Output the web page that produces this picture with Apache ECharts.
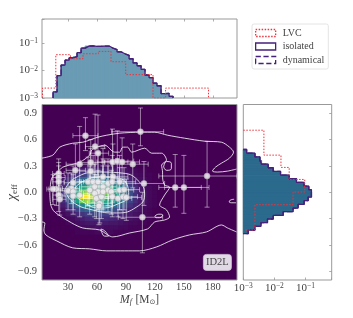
<!DOCTYPE html>
<html><head><meta charset="utf-8">
<style>html,body{margin:0;padding:0;background:#fff}#c{width:353px;height:318px}</style>
<script src="https://cdn.jsdelivr.net/npm/echarts@6/dist/echarts.min.js"></script>
</head><body><div id="c"></div>
<script>
const FONT = '"Liberation Serif", serif';
const massTicks = [30, 60, 90, 120, 150, 180];
const chiTicks = [-0.9, -0.6, -0.3, 0, 0.3, 0.6, 0.9];
const chiTickLabels = ['\u22120.9', '\u22120.6', '\u22120.3', '0.0', '0.3', '0.6', '0.9'];
const legendNames = ['LVC', 'isolated', 'dynamical'];

const massEdgesModel = [14.5,18.6,22.8,26.9,31.1,35.2,39.3,43.5,47.6,51.8,55.9,60,64.2,68.3,72.5,76.6,80.7,84.9,89,93.2,97.3,101.4,105.6,109.7,113.9,118,122.1,126.3,130.4,134.6,138.7];
const massIsolated = [.00166,.0065,.0159,.024,.029,.032,.045,.066,.078,.08,.076,.076,.078,.078,.066,.058,.048,.041,.036,.027,.019,.015,.011,.0069,.0055,.0035,.0028,.00145,.00148,.00115];
const massDynamical = [.00166,.0065,.0159,.024,.029,.032,.045,.066,.078,.08,.076,.076,.078,.078,.066,.058,.048,.041,.036,.027,.019,.015,.011,.0069,.0055,.0035,.0028,.00145,.00148,.00115];
const massEdgesLvc = [3.5,17.3,32.5,45.5,61.4,74.5,89.7,118,131,175.5];
const massLvc = [.0023,.038,.027,.041,.05,.021,.0071,.001,.0023];

const chiEdgesModel = [.487,.445,.403,.362,.32,.279,.237,.195,.154,.112,.07,.029,-.013,-.055,-.096,-.138,-.18,-.221,-.263,-.305,-.346,-.388,-.43,-.471];
const chiIsolated = [.00128,.00237,.00342,.00388,.00634,.00918,.0158,.03,.0514,.0906,.128,.156,.156,.122,.0906,.058,.04,.0192,.00918,.006,.0037,.00237,.00145];
const chiDynamical = [.00128,.00237,.00342,.00388,.00634,.00918,.0158,.03,.0514,.0906,.128,.156,.156,.122,.0906,.058,.04,.0192,.00918,.006,.0037,.00237,.00145];
const chiEdgesLvc = [.707,.423,.283,.146,.002,-.142,-.43];
const chiLvc = [.0046,.0163,.03,.095,.04,.00237];

const heatX = [10,15,20,25,30,35,40,45,50,55,60,65,70,75,80,85,90,95,100,105,110,115,120,125];
const heatY = [.30,.25,.20,.15,.10,.05,0,-.05,-.10,-.15,-.20,-.25,-.30,-.35,-.40,-.45];
const heatRows = [
[0,0,0,0,0,0,.02,.03,.04,.04,.04,.04,.04,.03,.03,.02,.02,.01,.01,0,0,0,0,0],
[0,0,0,0,.02,.04,.06,.07,.09,.09,.09,.09,.08,.07,.06,.05,.04,.03,.02,.01,.01,0,0,0],
[0,0,0,.02,.05,.08,.12,.15,.18,.2,.2,.2,.18,.15,.12,.1,.07,.05,.03,.02,.01,.01,0,0],
[0,0,.02,.05,.1,.16,.22,.28,.32,.34,.35,.35,.32,.28,.24,.19,.13,.08,.05,.03,.02,.01,0,0],
[0,.01,.03,.08,.15,.24,.32,.38,.44,.46,.46,.46,.46,.42,.36,.3,.22,.14,.08,.05,.03,.01,.01,0],
[0,.01,.04,.1,.2,.3,.4,.5,.55,.55,.55,.56,.58,.55,.46,.38,.28,.18,.11,.06,.03,.02,.01,0],
[0,.01,.05,.12,.24,.36,.5,.66,.72,.66,.6,.62,.7,.64,.5,.42,.32,.2,.12,.07,.04,.02,.01,0],
[0,.01,.05,.12,.24,.38,.55,.85,.95,.78,.62,.6,.62,.58,.48,.4,.3,.2,.12,.07,.04,.02,.01,0],
[0,.01,.04,.1,.2,.32,.48,.66,.72,.64,.54,.52,.5,.46,.42,.34,.25,.17,.11,.06,.04,.02,.01,0],
[0,0,.02,.07,.14,.22,.32,.4,.44,.44,.42,.4,.38,.35,.3,.25,.18,.12,.08,.05,.03,.02,.01,0],
[0,0,.01,.04,.08,.13,.18,.24,.28,.3,.3,.28,.26,.24,.2,.16,.12,.08,.06,.04,.02,.01,0,0],
[0,0,.01,.02,.04,.07,.1,.13,.16,.18,.18,.18,.16,.14,.12,.1,.08,.06,.04,.03,.02,.01,0,0],
[0,0,0,.01,.02,.03,.05,.07,.09,.1,.11,.11,.1,.09,.08,.06,.05,.04,.03,.02,.01,.01,0,0],
[0,0,0,0,.01,.02,.03,.04,.05,.06,.06,.06,.06,.05,.05,.04,.03,.02,.02,.01,.01,0,0,0],
[0,0,0,0,0,.01,.01,.02,.03,.03,.04,.04,.03,.03,.03,.02,.02,.01,.01,.01,0,0,0,0],
[0,0,0,0,0,0,.01,.01,.01,.01,.02,.02,.02,.02,.01,.01,.01,.01,0,0,0,0,0,0]
];

const contourOuterTop = [[3,.389],[14.2,.423],[21.4,.514],[34.9,.559],[45.2,.57],[60.7,.627],[70,.65],[83.5,.673],[105.2,.684],[119.7,.684],[133.1,.65],[150.7,.616],[171.4,.582],[189,.57],[197.2,.514],[201.4,.457],[197.2,.389],[189,.332],[182.7,.286],[179.6,.241],[184.8,.23],[195.2,.241],[204.5,.264]];
const contourOuterBottom = [[3,-.339],[6,-.35],[5,-.43],[7,-.486],[18.3,-.555],[34.9,-.634],[52.4,-.645],[70,-.668],[88.6,-.668],[104.1,-.668],[121.7,-.623],[138.3,-.543],[155.9,-.486],[173.4,-.452],[189,-.373],[195.2,-.407],[204.5,-.452]];
const contourMiddle = [[11.1,0],[13.1,.161],[19.3,.23],[24.5,.286],[42.1,.343],[52.4,.423],[54.5,.48],[59.7,.514],[68,.536],[78.3,.457],[83.5,.457],[86.6,.514],[91.7,.514],[95.9,.457],[109.3,.502],[116.6,.445],[127,.445],[132,.366],[126.9,.309],[127.9,.23],[127.9,.173],[130,.082],[135.2,.059],[130,-.032],[124.8,-.145],[132,-.202],[135.2,-.282],[130,-.316],[119.7,-.339],[112.4,-.418],[93.8,-.464],[76.2,-.509],[71,-.486],[62.8,-.43],[45.2,-.407],[33.8,-.35],[16.2,-.225],[12.1,-.145],[11.1,0]];
const contourIslandA = [[129,.29],[132,.35],[137,.33],[137,.27],[132,.25],[129,.29]];
const contourIslandB = [[120,-.27],[124,-.25],[128,-.26],[125,-.29],[121,-.29],[120,-.27]];
const contourIslandC = [[64,-.42],[68,-.44],[72,-.5],[68,-.5],[65,-.46],[64,-.42]];
const contourIslandD = [[202,-.08],[198,-.09],[197,-.11],[201,-.12],[204,-.12]];
const contourRingA = [[26.6,.025],[36.9,.161],[62.8,.23],[86.6,.218],[104.1,.116],[109.3,-.032],[101,-.168],[80.4,-.236],[55.5,-.202],[34.9,-.111],[26.6,.025]];
const contourRingB = [[33.8,0],[44.2,.116],[62.8,.173],[81.4,.161],[91.7,.07],[92.8,-.032],[81.4,-.134],[62.8,-.18],[47.3,-.123],[33.8,0]];

const eventMass = [105,48,58,61,42,53.5,76,81,86,97,37.6,53.5,108.6,141,150,174,107,50.7,55.9,61,66.2,71.4,76.5,83.4,52.4,57.6,61,66.2,71.4,57.6,59.3,64.5,62.8,62,66.2,74.8,75.8,81.7,86.9,90.3,83.4,88,75.8,42,35.2,33.4,30,35.2,35.2,20.3,20.3,20.3,18,14.5,20.3,21.4];
const eventChi = [.69,.645,.52,.445,.32,.34,.345,.355,.345,.32,.25,.24,.1,.055,.055,.185,-.285,.119,.119,.119,.176,.1,.176,.119,.025,.062,.006,.062,.025,-.013,-.07,-.051,-.127,-.157,.006,.006,-.051,-.07,-.051,-.059,.025,.03,.119,-.034,.108,.043,.017,.006,-.044,.214,.168,.119,.036,.036,-.032,-.08];
const eventMassLo = [75,35,48,52,28,43,60,65,68,75,28,42,90,124,130,124,82,38,42,46,52,55,62,68,38,44,50,54,58,46,46,52,50,48,52,62,62,68,72,76,68,74,62,32,26,24,22,26,24,14,14,14,10,8,14,14];
const eventMassHi = [129,61,68,72,58,68,92,98,104,113,48,66,130,168,176,205,128,64,70,76,82,88,92,100,66,72,74,80,86,68,72,78,76,76,80,88,90,96,102,106,98,104,90,52,44,42,38,44,46,26,27,26,24,22,27,28];
const eventChiLo = [.53,.475,.17,.12,.12,.15,.15,.12,.1,.05,.05,.03,-.15,-.17,-.24,-.17,-.69,-.15,-.12,-.2,-.06,-.15,-.1,-.2,-.25,-.15,-.2,-.2,-.22,-.28,-.3,-.3,-.35,-.37,-.22,-.25,-.28,-.28,-.3,-.32,-.2,-.2,-.12,-.28,-.1,-.13,-.2,-.2,-.25,.02,-.02,-.05,-.15,-.14,-.22,-.26];
const eventChiHi = [.96,.85,.89,.88,.75,.6,.72,.7,.62,.55,.55,.5,.35,.43,.42,.58,0,.4,.42,.45,.5,.38,.55,.42,.3,.32,.25,.38,.3,.2,.2,.18,.1,.08,.3,.25,.2,.15,.15,.15,.28,.28,.42,.14,.3,.22,.22,.2,.12,.38,.34,.3,.2,.2,.12,.08];

const FLOOR = 0.001, MASS_MIN = 3, MASS_MAX = 205, CHI_MIN = -1, CHI_MAX = 1, TOP_MAX = 0.76, RIGHT_MAX = 0.7;
const VIRIDIS = ['#440154','#482878','#3e4989','#31688e','#26828e','#1f9e89','#35b779','#6ece58','#b5de2b','#fde725'];
const TXT = '#444', SPINE = '#999';
const LVC = '#f0323c', ISO = '#47207a';

function stairs(edges, vals, swap) {
  const pts = [[edges[0], FLOOR]];
  vals.forEach((v, i) => { pts.push([edges[i], v]); pts.push([edges[i + 1], v]); });
  pts.push([edges[edges.length - 1], FLOOR]);
  return swap ? pts.map(p => [p[1], p[0]]) : pts;
}
const bins = (edges, vals) => vals.map((v, i) => [edges[i], edges[i + 1], v]);
const expLabel = v => {
  if (v > 0.5) return '';
  const e = Math.round(Math.log10(v));
  return '{b|10}{s|' + (e < 0 ? '\u2212' : '') + Math.abs(e) + '}';
};
const expRich = { b: { fontFamily: FONT, fontSize: 11, color: TXT }, s: { fontFamily: FONT, fontSize: 7.5, color: TXT, verticalAlign: 'top', lineHeight: 12 } };

const grids = [
  { left: 42, top: 19, width: 195, height: 79, show: true, borderColor: SPINE, borderWidth: 1, backgroundColor: '#fff', outerBoundsMode: 'none' },
  { left: 42, top: 104.5, width: 195, height: 175.5, show: true, borderColor: SPINE, borderWidth: 1, backgroundColor: '#440154', outerBoundsMode: 'none' },
  { left: 243.3, top: 104.5, width: 88.4, height: 175.5, show: true, borderColor: SPINE, borderWidth: 1, backgroundColor: '#fff', outerBoundsMode: 'none' },
  { left: 46.2, top: 164, width: 116, height: 70.4, outerBoundsMode: 'none' }
];
const tickIn = { show: true, inside: true, length: 2.5, lineStyle: { color: SPINE, width: 0.8 } };
const noLine = { show: false, onZero: false };
const noAxis = { axisLine: noLine, axisTick: { show: false }, axisLabel: { show: false }, splitLine: { show: false } };

const xAxes = [
  { gridIndex: 0, type: 'value', min: MASS_MIN, max: MASS_MAX, axisLine: noLine, splitLine: { show: false },
    axisTick: { ...tickIn, customValues: massTicks }, axisLabel: { show: false } },
  { gridIndex: 0, type: 'value', position: 'top', min: MASS_MIN, max: MASS_MAX, axisLine: noLine, splitLine: { show: false },
    axisTick: { ...tickIn, customValues: massTicks }, axisLabel: { show: false } },
  { gridIndex: 1, type: 'value', min: MASS_MIN, max: MASS_MAX, axisLine: noLine, splitLine: { show: false },
    axisTick: { show: false, customValues: massTicks },
    axisLabel: { customValues: massTicks, fontFamily: FONT, fontSize: 10.5, color: TXT, margin: 2 },
    name: '{i|M}{f|f} {n|[M}{o|\u2299}{n|]}', nameLocation: 'middle', nameGap: 14, nameMoveOverlap: false,
    nameTextStyle: { rich: { i: { fontFamily: FONT, fontStyle: 'italic', fontSize: 12, color: TXT }, f: { fontFamily: FONT, fontStyle: 'italic', fontSize: 8, color: TXT, verticalAlign: 'bottom', lineHeight: 10 }, n: { fontFamily: FONT, fontSize: 11.5, color: TXT }, o: { fontFamily: '"DejaVu Sans"', fontSize: 7, color: TXT, verticalAlign: 'bottom', lineHeight: 9 } } } },
  { gridIndex: 2, type: 'log', logBase: 10, min: FLOOR, max: RIGHT_MAX, axisLine: noLine, splitLine: { show: false }, minorSplitLine: { show: false },
    axisTick: tickIn,
    axisLabel: { formatter: expLabel, rich: expRich, margin: 2 } },
  { gridIndex: 3, type: 'category', data: heatX, ...noAxis }
];
const yAxes = [
  { gridIndex: 0, type: 'log', logBase: 10, min: FLOOR, max: TOP_MAX, axisLine: noLine, splitLine: { show: false }, minorSplitLine: { show: false },
    axisTick: tickIn,
    axisLabel: { formatter: expLabel, rich: expRich, margin: 4 } },
  { gridIndex: 1, type: 'value', min: CHI_MIN, max: CHI_MAX, axisLine: noLine, splitLine: { show: false },
    axisTick: { show: false, customValues: chiTicks },
    axisLabel: { customValues: chiTicks, fontFamily: FONT, fontSize: 10.5, color: TXT, margin: 5,
      formatter: v => chiTickLabels[chiTicks.findIndex(t => Math.abs(t - v) < 1e-6)] },
    name: '{i|\u03c7}{f|eff}', nameLocation: 'middle', nameGap: 23, nameRotate: 90, nameMoveOverlap: false,
    nameTextStyle: { rich: { i: { fontFamily: FONT, fontStyle: 'italic', fontSize: 14, color: TXT }, f: { fontFamily: FONT, fontSize: 9, color: TXT, verticalAlign: 'bottom', lineHeight: 11 } } } },
  { gridIndex: 2, type: 'value', min: CHI_MIN, max: CHI_MAX, axisLine: noLine, splitLine: { show: false }, position: 'right',
    axisTick: { ...tickIn, customValues: chiTicks }, axisLabel: { show: false } },
  { gridIndex: 3, type: 'category', data: heatY, inverse: true, ...noAxis }
];

const topFill = (params, api) => {
  const a = api.coord([api.value(0), FLOOR]), b = api.coord([api.value(1), api.value(2)]);
  return { type: 'rect', shape: { x: a[0], y: b[1], width: b[0] - a[0], height: a[1] - b[1] },
    style: { fill: '#6a9bb4', stroke: '#6a9bb4', lineWidth: 1 } };
};
const rightFill = (params, api) => {
  const a = api.coord([FLOOR, api.value(0)]), b = api.coord([api.value(2), api.value(1)]);
  return { type: 'rect', shape: { x: a[0], y: a[1], width: b[0] - a[0], height: b[1] - a[1] },
    style: { fill: '#2b6a8c', stroke: '#2b6a8c', lineWidth: 1 } };
};
const errorBars = (params, api) => {
  const i = params.dataIndex;
  const p = [eventMass[i], eventChi[i]];
  const x0 = api.coord([api.value(2), p[1]]), x1 = api.coord([api.value(3), p[1]]);
  const y0 = api.coord([p[0], api.value(4)]), y1 = api.coord([p[0], api.value(5)]);
  const st = { stroke: 'rgba(255,255,255,0.48)', lineWidth: 1 };
  const cap = 2.5;
  const seg = (a, b, c, d) => ({ type: 'line', shape: { x1: a, y1: b, x2: c, y2: d }, style: st });
  return { type: 'group', children: [
    seg(x0[0], x0[1], x1[0], x1[1]), seg(y0[0], y0[1], y1[0], y1[1]),
    seg(x0[0], x0[1] - cap, x0[0], x0[1] + cap), seg(x1[0], x1[1] - cap, x1[0], x1[1] + cap),
    seg(y0[0] - cap, y0[1], y0[0] + cap, y0[1]), seg(y1[0] - cap, y1[1], y1[0] + cap, y1[1])
  ] };
};
const contourLine = (data, smooth) => ({ type: 'line', xAxisIndex: 2, yAxisIndex: 1, data, showSymbol: false, smooth: smooth, silent: true, z: 3,
  lineStyle: { color: 'rgba(255,255,255,0.8)', width: 1 } });
const histLine = (name, data, x, y, color, type, width) => ({ name, type: 'line', xAxisIndex: x, yAxisIndex: y, data, showSymbol: false, z: 5,
  lineStyle: { color, type, width } });

const heatData = [];
heatRows.forEach((row, r) => row.forEach((v, c) => heatData.push([c, r, v])));

const series = [
  { type: 'custom', xAxisIndex: 0, yAxisIndex: 0, data: bins(massEdgesModel, massIsolated), renderItem: topFill, z: 2 },
  histLine('isolated', stairs(massEdgesModel, massIsolated), 0, 0, ISO, 'solid', 1.3),
  histLine('dynamical', stairs(massEdgesModel, massDynamical), 0, 0, ISO, 'dashed', 1.3),
  histLine('LVC', stairs(massEdgesLvc, massLvc), 0, 0, LVC, [1.5, 1.5], 1),
  { type: 'custom', xAxisIndex: 3, yAxisIndex: 2, data: bins(chiEdgesModel, chiIsolated), renderItem: rightFill, z: 2 },
  histLine('isolated', stairs(chiEdgesModel, chiIsolated, true), 3, 2, ISO, 'solid', 1.3),
  histLine('dynamical', stairs(chiEdgesModel, chiDynamical, true), 3, 2, ISO, 'dashed', 1.3),
  histLine('LVC', stairs(chiEdgesLvc, chiLvc, true), 3, 2, LVC, [1.5, 1.5], 1),
  { type: 'heatmap', xAxisIndex: 4, yAxisIndex: 3, data: heatData, z: 1, silent: true, progressive: 0,
    itemStyle: { borderWidth: 0 } },
  contourLine(contourOuterTop, 0.3), contourLine(contourOuterBottom, 0.3), contourLine(contourMiddle, 0.3),
  contourLine(contourIslandA, 0.5), contourLine(contourIslandB, 0.5), contourLine(contourIslandC, 0.5), contourLine(contourIslandD, 0.5),
  contourLine(contourRingA, 0.5), contourLine(contourRingB, 0.5),
  { type: 'custom', xAxisIndex: 2, yAxisIndex: 1, z: 4, silent: true, clip: true,
    data: eventMass.map((m, i) => [m, eventChi[i], eventMassLo[i], eventMassHi[i], eventChiLo[i], eventChiHi[i]]),
    renderItem: errorBars },
  { type: 'scatter', xAxisIndex: 2, yAxisIndex: 1, z: 6, symbolSize: 6, silent: true,
    data: eventMass.map((m, i) => [m, eventChi[i]]),
    itemStyle: { color: '#ece9ee', opacity: 0.85, borderColor: '#a9a5ad', borderWidth: 0.7 } }
];

const chart = echarts.init(document.getElementById('c'), null, { renderer: 'canvas' });
chart.setOption({
  animation: false,
  backgroundColor: '#fff',
  grid: grids, xAxis: xAxes, yAxis: yAxes, series,
  visualMap: { show: false, min: 0, max: 0.85, seriesIndex: 8, dimension: 2, inRange: { color: VIRIDIS } },
  legend: { orient: 'vertical', left: 252, top: 24, padding: [4, 4, 4, 3], itemWidth: 20, itemHeight: 7, itemGap: 3.5,
    borderColor: '#e4e4e4', borderWidth: 1, borderRadius: 2, selectedMode: false,
    textStyle: { fontFamily: FONT, fontSize: 10, color: TXT, padding: [0, 0, 0, 2] },
    data: [
      { name: legendNames[0], icon: 'rect', itemStyle: { color: 'rgba(255,255,255,0)', borderColor: LVC, borderWidth: 1.3, borderType: [1.5, 1.5] } },
      { name: legendNames[1], icon: 'rect', itemStyle: { color: 'rgba(255,255,255,0)', borderColor: ISO, borderWidth: 1.3, borderType: 'solid' } },
      { name: legendNames[2], icon: 'rect', itemStyle: { color: 'rgba(255,255,255,0)', borderColor: ISO, borderWidth: 1.3, borderType: 'dashed' } }
    ] },
  graphic: [{ type: 'group', left: 203, top: 254, z: 20, children: [
    { type: 'rect', shape: { x: 0, y: 0, width: 28, height: 16, r: 3 }, style: { fill: '#e2d9e6', stroke: '#cfc4d5', lineWidth: 0.8 } },
    { type: 'text', x: 14, y: 8, style: { text: 'ID2L', fontFamily: FONT, fontSize: 10.5, fill: '#444', align: 'center', verticalAlign: 'middle' } }
  ] }]
});
</script></body></html>
